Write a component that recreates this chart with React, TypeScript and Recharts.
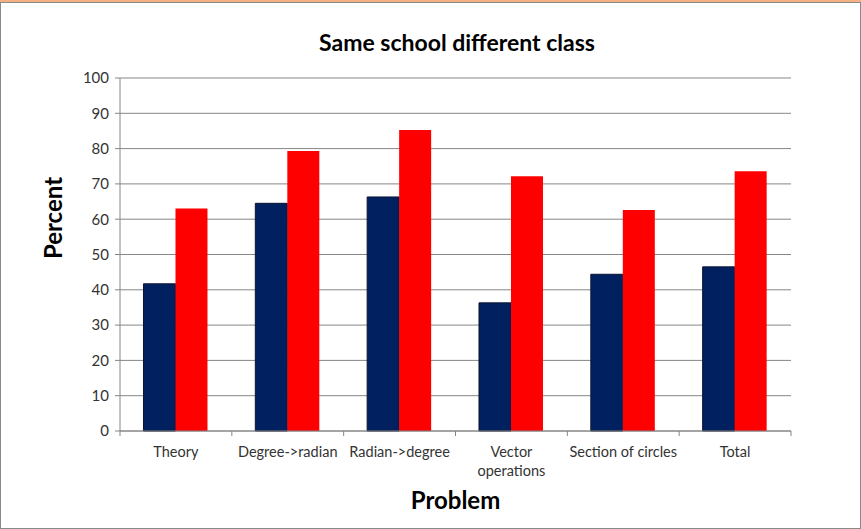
import React from 'react';
import { BarChart, Bar, XAxis, YAxis, CartesianGrid, Label } from 'recharts';

const categories = ['Theory', 'Degree->radian', 'Radian->degree', 'Vector operations', 'Section of circles', 'Total'];
const classA = [41.7, 64.5, 66.3, 36.3, 44.4, 46.5];
const classB = [63.0, 79.3, 85.3, 72.2, 62.6, 73.6];
const yTicks = [0, 10, 20, 30, 40, 50, 60, 70, 80, 90, 100];

const data = categories.map((name, i) => ({ name, classA: classA[i], classB: classB[i] }));

const FONT = 'Lato, "Open Sans", sans-serif';

const CategoryTick = (props: any) => {
  const { x, y, payload, index, width } = props;
  const band = width / categories.length;
  const words = String(payload.value) === 'Vector operations' ? ['Vector', 'operations'] : [String(payload.value)];
  return (
    <g>
      <line x1={x - band / 2} y1={y - 8} x2={x - band / 2} y2={y - 3} stroke="#868686" />
      {index === categories.length - 1 && (
        <line x1={x + band / 2} y1={y - 8} x2={x + band / 2} y2={y - 3} stroke="#868686" />
      )}
      <text x={x} y={y + 18} textAnchor="middle" fontSize={14.5} fill="#333" fontFamily={FONT}>
        {words.map((w, i) => (
          <tspan key={i} x={x} dy={i === 0 ? 0 : 19}>{w}</tspan>
        ))}
      </text>
    </g>
  );
};

export default function App() {
  return (
    <div style={{ position: 'fixed', left: 0, top: 0, width: 861, height: 529, background: '#fff' }}>
      <div style={{ position: 'absolute', left: 0, top: 0, width: 861, height: 2, background: '#f4b183' }} />
      <div style={{ position: 'absolute', left: 0, top: 2, width: 859, height: 525, border: '1px solid #8a8a8a' }} />
      <div
        style={{
          position: 'absolute', left: 0, top: 28, width: 914, textAlign: 'center',
          fontFamily: FONT, fontWeight: 700, fontSize: 23, color: '#000',
        }}
      >
        Same school different class
      </div>
      <div style={{ position: 'absolute', left: 0, top: 0 }}>
        <BarChart
          width={861}
          height={529}
          data={data}
          margin={{ top: 78, right: 70, left: 70, bottom: 28 }}
          barCategoryGap="21%"
          barGap={0}
        >
          <CartesianGrid vertical={false} stroke="#868686" />
          <XAxis
            dataKey="name"
            interval={0}
            height={70}
            tickLine={false}
            axisLine={{ stroke: '#868686' }}
            tick={<CategoryTick />}
          >
            <Label
              content={(p: any) => {
                const vb = p.viewBox;
                return (
                  <text x={vb.x + vb.width / 2} y={509} textAnchor="middle" fontFamily={FONT} fontWeight={700} fontSize={24} fill="#000">
                    Problem
                  </text>
                );
              }}
            />
          </XAxis>
          <YAxis
            width={50}
            domain={[0, 100]}
            ticks={yTicks}
            interval={0}
            tickSize={5}
            tickMargin={6}
            tickLine={{ stroke: '#868686' }}
            axisLine={{ stroke: '#868686' }}
            tick={{ fontSize: 15, fill: '#333', fontFamily: FONT }}
          >
            <Label
              content={() => (
                <text x={62} y={218} transform="rotate(-90, 62, 218)" textAnchor="middle" fontFamily={FONT} fontWeight={700} fontSize={24} fill="#000">
                  Percent
                </text>
              )}
            />
          </YAxis>
          <Bar dataKey="classA" fill="#002060" stroke="#0a1433" strokeWidth={1} isAnimationActive={false} />
          <Bar dataKey="classB" fill="#ff0000" isAnimationActive={false} />
        </BarChart>
      </div>
    </div>
  );
}
